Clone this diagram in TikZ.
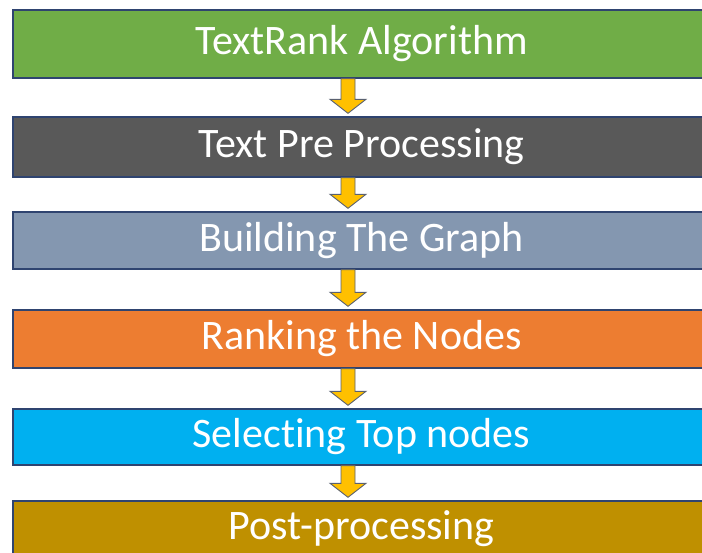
\documentclass[tikz,border=0pt]{standalone}
\usepackage{fontspec}
\setmainfont{Carlito}[Ligatures=NoCommon]
\usetikzlibrary{calc}

\definecolor{stepgreen}{HTML}{70AD47}
\definecolor{stepdark}{HTML}{595959}
\definecolor{stepslate}{HTML}{8497B0}
\definecolor{steporange}{HTML}{ED7D31}
\definecolor{stepcyan}{HTML}{00B0F0}
\definecolor{stepgold}{HTML}{BF9000}
\definecolor{boxline}{HTML}{2F4470}
\definecolor{arrowfill}{HTML}{FFC000}
\definecolor{arrowline}{HTML}{5A6170}

\begin{document}
\begin{tikzpicture}[x=1pt,y=-1pt,
    box/.style={draw=boxline,line width=1.4pt,minimum width=697pt,
      inner sep=0pt,text=white,font=\fontsize{42}{50}\selectfont},
    down/.style={fill=arrowfill,draw=arrowline,line width=0.9pt,
      line join=miter,
      to path={let \p1=(\tikztostart),\p2=(\tikztotarget) in
        (\x1-7pt,\y1) -- (\x1-7pt,\y2+17pt) -- (\x1-18pt,\y2+17pt)
        -- (\x1,\y2+3pt) -- (\x1+18pt,\y2+17pt) -- (\x1+7pt,\y2+17pt)
        -- (\x1+7pt,\y1) -- cycle}}
  ]
  \clip (0,0) rectangle (702,552);
  \node[box,fill=stepgreen,minimum height=68pt] (T) at (361.5,44)
    {TextRank Algorithm};
  \node[box,fill=stepdark,minimum height=60pt] (P) at (361.5,147)
    {Text Pre Processing};
  \node[box,fill=stepslate,minimum height=57pt] (B) at (361.5,240.5)
    {Building The Graph};
  \node[box,fill=steporange,minimum height=58pt] (R) at (361.5,339)
    {Ranking the Nodes};
  \node[box,fill=stepcyan,minimum height=56pt] (S) at (361.5,437)
    {Selecting Top nodes};
  \node[box,fill=stepgold,minimum height=56pt] (Q) at (361.5,529)
    {Post-processing};
  \foreach \a/\b in {T/P,P/B,B/R,R/S,S/Q}
    \draw[down] ([xshift=-13.5pt]\a.south) to ([xshift=-13.5pt]\b.north);
\end{tikzpicture}
\end{document}
